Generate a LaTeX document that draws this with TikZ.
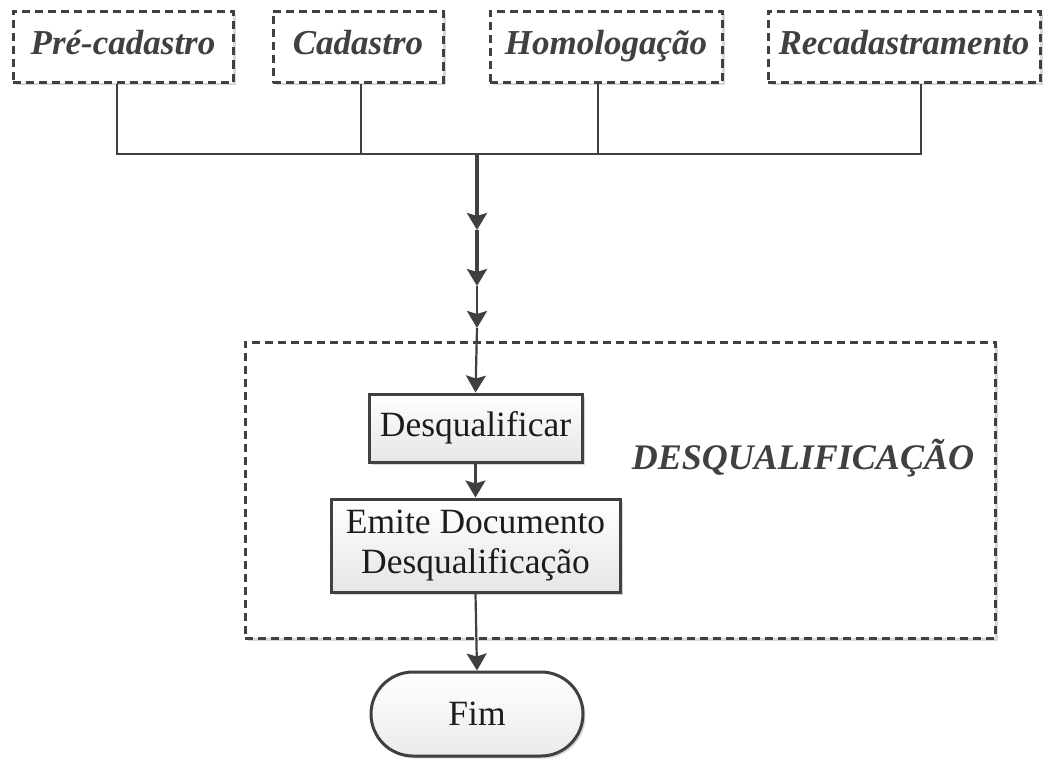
\documentclass[tikz,border=0pt]{standalone}
\usepackage{fontspec}
\setmainfont{Liberation Serif}
\usetikzlibrary{arrows.meta,shadows,shapes.misc,calc}
\definecolor{ink}{HTML}{404040}
\definecolor{txt}{HTML}{1C1C1C}
\definecolor{shade}{HTML}{C8C8C8}

\begin{document}
\begin{tikzpicture}[x=1pt,y=-1pt,
  softshadow/.style={drop shadow={shadow xshift=2.5pt,shadow yshift=-2.5pt,fill=shade,opacity=0.7}},
  phase/.style={draw=ink,line width=3pt,dash pattern=on 8pt off 5pt,fill=white,
    softshadow,minimum height=71pt,inner sep=0pt,text height=24pt,text depth=8pt,
    font=\fontsize{35}{40}\selectfont\bfseries\itshape,text=ink},
  group/.style={draw=ink,line width=3pt,dash pattern=on 8pt off 5pt,softshadow,fill=white},
  task/.style={draw=ink,line width=3pt,top color=white,bottom color=black!10,
    softshadow,inner sep=0pt,align=center,
    font=\fontsize{35.5}{40}\selectfont,text=txt},
  endcap/.style={rounded rectangle,draw=ink,line width=3pt,top color=white,bottom color=black!8,
    softshadow,inner sep=0pt,font=\fontsize{35.5}{40}\selectfont,text=txt},
  bus/.style={draw=ink,line width=2.2pt},
  flow/.style={draw=ink,line width=2.2pt,-{Stealth[width=20pt,length=17pt,inset=3pt]}},
  trunk/.style={flow,line width=3.8pt}
]
\useasboundingbox (0,0) rectangle (1052,760);

% process group frame and its title
\node[group,minimum width=750pt,minimum height=296pt,inner sep=0pt] (grp) at (620,490) {};
\node[font=\fontsize{36}{40}\selectfont\bfseries\itshape,text=ink] (grptitle) at (803,458) {DESQUALIFICAÇÃO};

% source phases
\node[phase,minimum width=220pt] (pre) at (123,47) {Pré-cadastro};
\node[phase,minimum width=170pt] (cad) at (358,47) {Cadastro};
\node[phase,minimum width=232pt] (hom) at (606,47) {Homologação};
\node[phase,minimum width=272pt] (rec) at (904,47) {Recadastramento};

% steps
\node[task,minimum width=213pt,minimum height=68pt] (desq) at (475.5,428) {Desqualificar};
\node[task,minimum width=289pt,minimum height=93pt] (emite) at (475.5,545.5) {Emite Documento\\Desqualificação};
\node[endcap,minimum width=212pt,minimum height=84pt] (fim) at (477,714) {Fim};

% collecting bus
\coordinate (bpre) at (117,154);
\coordinate (bcad) at (361,154);
\coordinate (bhom) at (598,154);
\coordinate (brec) at (921,154);
\coordinate (join) at (477,154);
\coordinate (a1) at (477,230);
\coordinate (a2) at (477,286);
\coordinate (a3) at (477,328);

\draw[bus] (pre.south -| bpre) -- (bpre) -- (brec) -- (rec.south -| brec);
\draw[bus] (cad.south -| bcad) -- (bcad);
\draw[bus] (hom.south -| bhom) -- (bhom);

% main flow
\draw[trunk] (join) -- (a1);
\draw[trunk,line width=3.2pt] (a1) -- (a2);
\draw[flow,line width=2.8pt] (a2) -- (a3);
\draw[flow] (a3) -- (desq.north);
\draw[flow] (desq.south) -- (emite.north);
\draw[flow] (emite.south) -- (fim.north);
\end{tikzpicture}
\end{document}
